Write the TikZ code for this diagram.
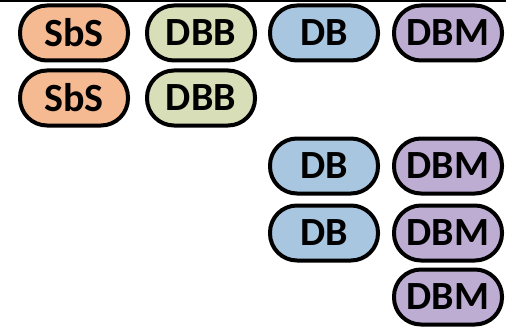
\documentclass[tikz,border=0pt]{standalone}
\usepackage{fontspec}
\setmainfont{Carlito}
\begin{document}
\begin{tikzpicture}[x=1pt,y=-1pt,
  pill/.style={draw=black, line width=4pt, rounded corners=27pt,
    minimum width=108pt, minimum height=55pt, inner sep=0pt,
    font=\fontsize{40}{40}\selectfont\bfseries},
  sbs/.style={pill, fill=sbsfill},
  dbb/.style={pill, fill=dbbfill},
  db/.style={pill, fill=dbfill},
  dbm/.style={pill, fill=dbmfill}]
\definecolor{sbsfill}{RGB}{245,186,146}
\definecolor{dbbfill}{RGB}{215,222,184}
\definecolor{dbfill}{RGB}{168,198,224}
\definecolor{dbmfill}{RGB}{190,173,211}
\useasboundingbox (0,0) rectangle (506,329);
% rule along the top edge
\fill[black] (0,0) rectangle (506,2);
% first row
\node[sbs] (s1) at (74,33) {SbS};
\node[dbb] (b1) at (201,33) {DBB};
\node[db]  (d1) at (324,33) {DB};
\node[dbm] (m1) at (448,33) {DBM};
% second row
\node[sbs] (s2) at (74,98) {SbS};
\node[dbb] (b2) at (201,98) {DBB};
% lower rows
\node[db]  (d2) at (324,166) {DB};
\node[dbm] (m2) at (448,166) {DBM};
\node[db]  (d3) at (324,233) {DB};
\node[dbm] (m3) at (448,233) {DBM};
\node[dbm] (m4) at (448,297) {DBM};
\end{tikzpicture}
\end{document}
